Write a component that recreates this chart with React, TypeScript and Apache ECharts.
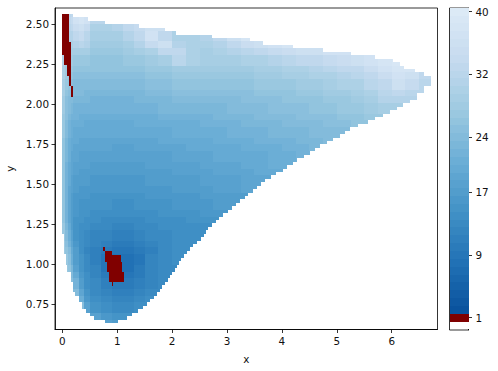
import React, { useEffect, useRef } from "react";
import * as echarts from "echarts";

const xTicks = [0, 1, 2, 3, 4, 5, 6];
const yTicks = [0.75, 1, 1.25, 1.5, 1.75, 2, 2.25, 2.5];
const colorbarTicks = [1, 9, 17, 24, 32, 40];
const colorbarValues = [0,1,2,3,4,5,6,7,8,9,10,11,12,13,14,15,16,17,18,19,20,21,22,23,24,25,26,27,28,29,30,31,32,33,34,35,36,37,38,39,40];

// Row layout of the count grid (top to bottom)
const rowTop = 2.5625;
const rowStep = 0.02146;
const rowLeft = [
  0,0,0,0,0,0,0,0,0,0,0,0,0,0,0,0,0,0,0,0,0,0,0,0,0,0,0,0,0,0,0,0,
  0,0,0,0,0,0,0,0,0,0,0,0,0,0,0,0,0,0,0,0,0,0,0,0,0,0,0,0,0,0,0,0,
  .03,.03,.03,.03,.03,.03,.07,.07,.07,.09,.09,.16,.16,.16,.20,.20,.20,.24,.30,.30,.35,.35,.43,.50,.58,.78,
];
const rowRight = [
  .19,.47,.78,1.40,1.87,2.07,2.72,3.42,3.66,4.20,4.75,5.25,5.70,6.02,6.15,6.22,6.42,6.59,6.71,6.71,
  6.71,6.59,6.59,6.46,6.46,6.33,6.21,6.09,5.97,5.84,5.70,5.57,5.39,5.24,5.15,5.06,4.93,4.82,4.69,4.60,
  4.52,4.40,4.28,4.21,4.10,4.01,3.89,3.81,3.70,3.62,3.54,3.47,3.39,3.32,3.24,3.17,3.09,3.01,2.93,2.85,
  2.80,2.73,2.66,2.61,2.58,2.51,2.45,2.38,2.33,2.27,2.22,2.17,2.13,2.09,2.05,2.00,1.96,1.93,1.87,1.82,
  1.78,1.72,1.67,1.60,1.54,1.47,1.38,1.27,1.18,1.01,
];

// Counts: bands of y (0.05 high, from 2.6 down), columns split at colEdges
const colEdges = [0,.05,.1,.15,.2,.3,.4,.5,.7,.9,1.1,1.3,1.5,1.75,2,2.25,2.5,2.75,3,3.25,3.5,3.75,4,4.25,4.5,4.75,5,5.25,5.5,5.75,6,6.25,6.5,6.8];
const bandHeight = 0.05;
const counts = [
  [31,31,32,33,37,38],
  [32,32,33,34,37,38,37,32,32,34,35,35],
  [32,32,32,33,35,36,34,30,30,31,33,34,36,36,37,37,37,38],
  [32,31,31,31,33,34,32,29,29,29,31,33,37,33,30,30,31,33,36,38,38,38],
  [32,31,30,30,31,32,31,28,28,28,29,31,34,36,31,30,30,31,33,35,36,37,38,38,38,38,38,38],
  [31,30,29,29,29,29,29,27,27,27,28,29,30,33,33,30,29,30,31,32,33,34,35,36,36,37,37,38,38,38,38],
  [31,29,28,28,27,27,27,26,26,26,27,27,28,29,32,30,29,29,29,30,30,31,32,33,33,34,35,36,37,38,39,38],
  [30,28,27,27,26,26,26,26,26,26,26,26,27,27,28,28,28,28,28,28,29,29,30,30,31,32,33,33,35,37,38,38,36],
  [30,28,27,26,25,25,25,25,25,25,25,25,26,26,27,27,27,27,27,27,28,28,29,29,30,30,31,32,33,35,37,36,33],
  [29,27,26,25,24,24,24,24,24,24,24,24,25,25,26,26,26,26,26,26,27,27,27,28,28,29,30,30,32,33,36,34,32],
  [29,26,25,24,24,24,23,23,23,23,23,23,24,24,25,25,25,25,25,25,26,26,26,27,27,28,28,29,30,32,33,32],
  [28,25,24,24,23,23,23,22,22,22,22,23,23,23,24,24,24,24,24,25,25,25,26,26,26,27,27,28,29,31,31],
  [28,25,24,23,22,22,22,22,22,22,22,22,22,23,23,23,23,23,24,24,24,25,25,25,26,26,27,27,28,29],
  [27,25,23,22,22,21,21,21,21,21,21,21,21,22,22,22,22,23,23,23,24,24,24,25,25,25,26,26,27],
  [27,24,22,21,21,21,20,20,20,20,20,21,21,21,21,21,22,22,22,23,23,23,24,24,24,25,25,26],
  [27,24,22,21,20,20,20,20,20,20,20,20,20,20,21,21,21,21,22,22,22,23,23,23,24,24],
  [26,23,21,20,20,19,19,19,19,19,19,19,19,20,20,20,20,21,21,21,22,22,22,23,23,24],
  [26,23,21,20,19,19,19,19,19,18,18,19,19,19,19,20,20,20,20,21,21,21,22,22,23],
  [26,23,21,19,19,18,18,18,18,18,18,18,18,18,19,19,19,20,20,20,20,21,21,22],
  [26,22,20,19,18,18,18,17,17,17,17,17,18,18,18,18,19,19,19,20,20,21,21],
  [26,22,20,19,18,17,17,17,17,17,17,17,17,17,18,18,18,19,19,19,20,20],
  [26,22,20,18,17,17,17,16,16,16,16,16,17,17,17,17,18,18,18,19,19],
  [26,22,19,18,17,16,16,16,16,16,16,16,16,16,17,17,17,18,18,19],
  [26,22,19,17,16,16,16,15,15,15,15,15,16,16,16,16,17,17],
  [26,22,19,17,16,15,15,15,15,14,14,15,15,15,16,16,16,17],
  [26,22,19,17,16,15,15,14,14,14,14,14,14,15,15,15,16],
  [26,22,19,17,15,15,14,14,13,13,13,13,14,14,14,15,15],
  [27,23,20,17,15,14,14,13,13,12,12,13,13,14,14,14],
  [27,24,21,18,15,14,13,12,12,11,11,12,13,13,14],
  [28,25,22,19,16,14,13,12,11,10,10,11,12,13,14],
  [28,26,24,20,17,14,12,11,10,9,9,10,11,13,14],
  [28,27,25,21,17,15,13,11,9,8,8,9,12,13,14],
  [28,27,26,23,18,15,13,12,9,8,8,10,12,13],
  [28,28,27,24,20,16,14,12,10,9,9,10,12,13],
  [28,28,28,25,22,17,14,13,11,10,10,11,12,13],
  [28,28,28,28,24,19,15,13,12,11,11,12,13],
  [28,28,28,28,26,21,16,14,13,12,12,13,14],
  [28,28,28,28,28,25,18,15,14,13,13,14],
  [24,24,24,24,24,24,24,18,16,15,15,15],
  [20,20,20,20,20,20,20,20,18,17,17,17],
];

// Cells below the colour scale: [x0, x1, yTop, yBottom]
const underCells = [
  [0,.12,2.5625,2.39],[0,.158,2.39,2.306],[.036,.158,2.306,2.244],[.079,.158,2.244,2.175],[.121,.158,2.175,2.1125],[.158,.194,2.1125,2.046],
  [.747,.778,1.104,1.081],[.778,.90,1.081,1.056],[.778,1.064,1.056,1.014],[.82,1.093,1.014,.952],[.856,1.129,.952,.889],[.90,.929,.889,.864],
];

const colorStops: [number, number[]][] = [
  [1.5,[8,81,156]],[8,[33,113,181]],[14.5,[66,146,198]],[21,[107,174,214]],[27.5,[158,202,225]],[34,[198,219,239]],[40.5,[222,235,247]],
];

function colorOf(v: number) {
  if (v < 0.5) return "#ffffff";
  if (v < 1.5) return "#800000";
  for (let i = 0; i < colorStops.length - 1; i++) {
    const [a, ca] = colorStops[i];
    const [b, cb] = colorStops[i + 1];
    if (v <= b) {
      const t = (v - a) / (b - a);
      return `rgb(${ca.map((c, k) => Math.round(c + (cb[k] - c) * t)).join(",")})`;
    }
  }
  return "#deebf7";
}

function buildCells() {
  const cells: number[][] = [];
  rowRight.forEach((right, i) => {
    const left = rowLeft[i];
    const y0 = rowTop - rowStep * i;
    const y1 = y0 - rowStep;
    const band = counts[Math.min(counts.length - 1, Math.max(0, Math.floor((2.6 - (y0 + y1) / 2) / bandHeight)))];
    for (let c = 0; c < colEdges.length - 1; c++) {
      const a = Math.max(colEdges[c], left);
      const b = Math.min(colEdges[c + 1], right);
      if (b > a) cells.push([a, b, y0, y1, band[Math.min(c, band.length - 1)]]);
    }
  });
  underCells.forEach((r) => cells.push([r[0], r[1], r[2], r[3], 1]));
  return cells;
}

const rectItem = (_: any, api: any) => {
  const p0 = api.coord([api.value(0), api.value(2)]);
  const p1 = api.coord([api.value(1), api.value(3)]);
  const x0 = Math.round(p0[0]), y0 = Math.round(p0[1]);
  const x1 = Math.round(p1[0]), y1 = Math.round(p1[1]);
  return {
    type: "rect",
    shape: { x: x0, y: y0, width: Math.max(1, x1 - x0), height: Math.max(1, y1 - y0) },
    style: { fill: colorOf(api.value(4)) },
  };
};

const font = { color: "#111", fontFamily: "DejaVu Sans", fontSize: 10.4 };
const tickLine = { length: 3.5, lineStyle: { color: "#000", width: 0.8 } };

export default function App() {
  const ref = useRef<HTMLDivElement>(null);
  useEffect(() => {
    document.body.style.margin = "0";
    const chart = echarts.init(ref.current!, undefined, { renderer: "svg" });
    chart.setOption({
      animation: false,
      backgroundColor: "#fff",
      grid: [
        { left: 55, top: 8, right: 60.5, bottom: 41.5, outerBoundsMode: "none", show: true, borderColor: "#000", borderWidth: 0.8, backgroundColor: "transparent" },
        { left: 449.5, top: 8, right: 29.5, bottom: 41, outerBoundsMode: "none", show: true, borderColor: "#000", borderWidth: 0.8, backgroundColor: "transparent" },
      ],
      xAxis: [
        {
          gridIndex: 0, type: "value", min: -0.133, max: 6.834, name: "x", nameLocation: "middle", nameGap: 24,
          nameTextStyle: font, splitLine: { show: false },
          axisLine: { show: true, onZero: false, lineStyle: { color: "#000", width: 0.8 } },
          axisTick: { show: true, customValues: xTicks, ...tickLine },
          axisLabel: { ...font, customValues: xTicks, margin: 6, formatter: (v: number) => String(v) },
        },
        { gridIndex: 1, type: "value", min: 0, max: 1, show: false },
      ],
      yAxis: [
        {
          gridIndex: 0, type: "value", min: 0.5906, max: 2.6, name: "y", nameLocation: "middle", nameGap: 31,
          nameTextStyle: font, splitLine: { show: false },
          axisLine: { show: true, onZero: false, lineStyle: { color: "#000", width: 0.8 } },
          axisTick: { show: true, customValues: yTicks, ...tickLine },
          axisLabel: { ...font, customValues: yTicks, margin: 6, formatter: (v: number) => v.toFixed(2) },
        },
        {
          gridIndex: 1, type: "value", position: "right", min: -0.57, max: 40.47, splitLine: { show: false },
          axisLine: { show: true, onZero: false, lineStyle: { color: "#000", width: 0.8 } },
          axisTick: { show: true, customValues: colorbarTicks, ...tickLine },
          axisLabel: { ...font, customValues: colorbarTicks, margin: 7, formatter: (v: number) => String(v) },
        },
      ],
      series: [
        { type: "custom", xAxisIndex: 0, yAxisIndex: 0, coordinateSystem: "cartesian2d", clip: true, silent: true,
          data: buildCells(), renderItem: rectItem, encode: { x: [0, 1], y: [2, 3] } },
        { type: "custom", xAxisIndex: 1, yAxisIndex: 1, coordinateSystem: "cartesian2d", silent: true,
          data: colorbarValues.map((v) => [0, 1, v + 0.5, v - 0.5, v]), renderItem: rectItem, encode: { x: [0, 1], y: [2, 3] } },
      ],
    });
    return () => chart.dispose();
  }, []);
  return <div ref={ref} style={{ position: "fixed", left: 0, top: 0, width: 498, height: 371 }} />;
}
